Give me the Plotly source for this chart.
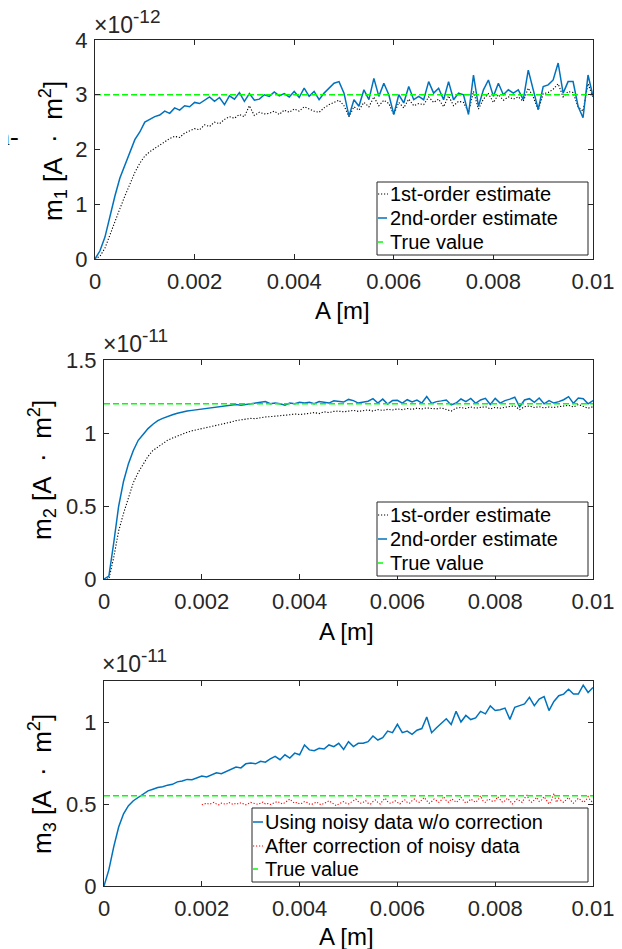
import plotly.graph_objects as go

W, H = 622, 949
OFF = 8  # the page body keeps the browser's default 8px margin

# ---------------- data (values in units of the exponent shown on each axis) ----------------
A_m = [i / 10000 for i in range(101)]          # A grid [m], 0 ... 0.01

# Plot 1: m1 [x1e-12 A m^2]
m1_first = [0, 0.05, 0.20, 0.45, 0.70, 0.92, 1.15, 1.38, 1.58, 1.75,
            1.88, 1.96, 2.02, 2.08, 2.14, 2.20, 2.24, 2.22, 2.30, 2.34,
            2.38, 2.36, 2.45, 2.42, 2.50, 2.47, 2.55, 2.60, 2.57, 2.64,
            2.60, 2.80, 2.62, 2.68, 2.65, 2.66, 2.70, 2.64, 2.72, 2.68,
            2.74, 2.70, 2.78, 2.74, 2.70, 2.68, 2.76, 2.82, 2.86, 2.90,
            2.80, 2.60, 2.78, 2.72, 2.86, 2.78, 2.96, 2.80, 2.90, 2.84,
            2.64, 2.86, 2.76, 2.92, 2.80, 2.84, 2.82, 2.96, 2.86, 2.92,
            2.78, 2.98, 2.80, 2.88, 2.86, 2.68, 3.06, 2.74, 2.92, 3.02,
            2.86, 3.00, 2.90, 2.96, 2.92, 2.96, 2.88, 3.12, 2.96, 2.72,
            3.02, 3.04, 3.10, 3.20, 2.96, 3.06, 3.04, 2.78, 2.70, 3.20,
            2.95]
m1_second = [0, 0.15, 0.40, 0.80, 1.15, 1.48, 1.72, 1.95, 2.18, 2.32,
             2.50, 2.55, 2.60, 2.63, 2.70, 2.66, 2.76, 2.72, 2.80, 2.78,
             2.86, 2.84, 2.90, 2.96, 2.88, 2.95, 2.82, 2.98, 2.92, 3.04,
             2.88, 3.02, 2.90, 2.92, 3.00, 2.97, 3.05, 2.98, 3.02, 2.96,
             3.06, 2.95, 3.12, 2.97, 3.06, 2.91, 3.03, 3.12, 3.21, 3.24,
             3.03, 2.61, 2.91, 2.79, 3.09, 2.91, 3.30, 2.97, 3.21, 3.00,
             2.64, 3.00, 2.85, 3.15, 2.91, 2.97, 2.91, 3.24, 3.03, 3.12,
             2.91, 3.24, 2.91, 3.03, 3.00, 2.64, 3.36, 2.79, 3.09, 3.27,
             2.97, 3.21, 3.00, 3.09, 3.03, 3.09, 2.91, 3.45, 3.06, 2.73,
             3.15, 3.18, 3.27, 3.58, 3.03, 3.24, 3.24, 2.79, 2.58, 3.36,
             2.97]
m1_true = 3.0

# Plot 2: m2 [x1e-11 A m^2]
m2_first = [0, 0.0, 0.15, 0.33, 0.45, 0.56, 0.66, 0.73, 0.79, 0.84,
            0.88, 0.905, 0.93, 0.95, 0.965, 0.98, 0.995, 1.005, 1.015, 1.022,
            1.03, 1.038, 1.045, 1.05, 1.06, 1.065, 1.075, 1.085, 1.09, 1.095,
            1.10, 1.098, 1.105, 1.11, 1.112, 1.115, 1.12, 1.118, 1.125, 1.13,
            1.127, 1.13, 1.135, 1.14, 1.133, 1.145, 1.14, 1.148, 1.15, 1.145,
            1.15, 1.155, 1.148, 1.152, 1.158, 1.150, 1.160, 1.155, 1.162, 1.158,
            1.165, 1.160, 1.168, 1.162, 1.170, 1.165, 1.172, 1.168, 1.165, 1.172,
            1.160, 1.150, 1.170, 1.175, 1.168, 1.178, 1.170, 1.175, 1.180, 1.165,
            1.175, 1.170, 1.178, 1.182, 1.185, 1.160, 1.180, 1.185, 1.175, 1.180,
            1.172, 1.178, 1.175, 1.182, 1.185, 1.190, 1.178, 1.195, 1.185, 1.170,
            1.180]
m2_second = [0, 0.02, 0.25, 0.50, 0.67, 0.79, 0.88, 0.95, 0.99, 1.03,
             1.06, 1.085, 1.10, 1.115, 1.125, 1.135, 1.145, 1.15, 1.155, 1.16,
             1.165, 1.17, 1.175, 1.18, 1.185, 1.185, 1.19, 1.195, 1.19, 1.195,
             1.20, 1.20, 1.205, 1.215, 1.20, 1.205, 1.20, 1.19, 1.205, 1.20,
             1.21, 1.205, 1.21, 1.20, 1.215, 1.21, 1.205, 1.22, 1.215, 1.212,
             1.230, 1.222, 1.205, 1.210, 1.218, 1.235, 1.205, 1.232, 1.198, 1.222,
             1.224, 1.205, 1.228, 1.212, 1.226, 1.205, 1.250, 1.203, 1.215, 1.220,
             1.226, 1.192, 1.205, 1.233, 1.215, 1.237, 1.203, 1.226, 1.237, 1.195,
             1.237, 1.205, 1.222, 1.232, 1.245, 1.180, 1.226, 1.235, 1.210, 1.240,
             1.200, 1.222, 1.205, 1.215, 1.228, 1.249, 1.203, 1.240, 1.235, 1.200,
             1.222]
m2_true = 1.2

# Plot 3: m3 [x1e-11 A m^2]
m3_noisy = [0, 0.10, 0.24, 0.36, 0.44, 0.49, 0.52, 0.54, 0.56, 0.58,
            0.59, 0.60, 0.605, 0.615, 0.62, 0.635, 0.64, 0.65, 0.648, 0.66,
            0.67, 0.665, 0.68, 0.69, 0.685, 0.70, 0.71, 0.725, 0.72, 0.745,
            0.75, 0.745, 0.76, 0.755, 0.775, 0.79, 0.77, 0.80, 0.78, 0.81,
            0.80, 0.86, 0.83, 0.825, 0.84, 0.835, 0.86, 0.85, 0.87, 0.833,
            0.88, 0.85, 0.87, 0.87, 0.88, 0.915, 0.89, 0.905, 0.945, 0.935,
            0.986, 0.935, 0.945, 0.925, 0.95, 0.96, 1.03, 0.935, 0.965, 0.995,
            1.02, 0.985, 1.065, 1.00, 1.04, 1.015, 1.025, 1.065, 1.05, 1.098,
            1.07, 1.075, 1.085, 1.016, 1.09, 1.10, 1.11, 1.15, 1.10, 1.14,
            1.155, 1.07, 1.125, 1.16, 1.17, 1.20, 1.17, 1.17, 1.225, 1.18,
            1.21]
A_corr_m = [0.002 + i * 0.00005 for i in range(161)]   # A grid [m], 0.002 ... 0.01
m3_corrected = [0.495, 0.50, 0.505, 0.498, 0.502, 0.51, 0.50, 0.495, 0.505, 0.50,
                0.498, 0.51, 0.503, 0.497, 0.505, 0.50, 0.508, 0.50, 0.495, 0.502,
                0.51, 0.505, 0.50, 0.498, 0.505, 0.512, 0.50, 0.503, 0.497, 0.505,
                0.51, 0.515, 0.505, 0.50, 0.508, 0.518, 0.53, 0.515, 0.505, 0.51,
                0.50, 0.505, 0.515, 0.51, 0.50, 0.498, 0.505, 0.512, 0.50, 0.495,
                0.505, 0.51, 0.52, 0.51, 0.50, 0.49, 0.50, 0.51, 0.515, 0.505,
                0.50, 0.51, 0.52, 0.53, 0.515, 0.505, 0.51, 0.52, 0.505, 0.50,
                0.515, 0.525, 0.51, 0.50, 0.52, 0.535, 0.515, 0.505, 0.51, 0.52,
                0.51, 0.50, 0.515, 0.525, 0.51, 0.505, 0.52, 0.53, 0.515, 0.51,
                0.525, 0.54, 0.52, 0.505, 0.515, 0.53, 0.52, 0.51, 0.525, 0.545,
                0.52, 0.51, 0.53, 0.525, 0.51, 0.52, 0.54, 0.52, 0.505, 0.515,
                0.53, 0.52, 0.51, 0.525, 0.55, 0.52, 0.51, 0.53, 0.525, 0.515,
                0.52, 0.545, 0.525, 0.51, 0.52, 0.535, 0.52, 0.50, 0.515, 0.53,
                0.52, 0.51, 0.535, 0.555, 0.52, 0.51, 0.525, 0.54, 0.515, 0.525,
                0.545, 0.52, 0.50, 0.52, 0.565, 0.51, 0.535, 0.52, 0.51, 0.525,
                0.54, 0.52, 0.505, 0.52, 0.535, 0.525, 0.51, 0.52, 0.545, 0.52,
                0.51]
m3_true = 0.55
A_range = [0, 0.01]

x_tickvals = [0, 0.002, 0.004, 0.006, 0.008, 0.01]
x_ticktext = ["0", "0.002", "0.004", "0.006", "0.008", "0.01"]

legend1_labels = ["1st-order estimate", "2nd-order estimate", "True value"]
legend3_labels = ["Using noisy data w/o correction", "After correction of noisy data", "True value"]

# ---------------- styling ----------------
FONT = "Liberation Sans, Arial, Helvetica, sans-serif"
AX = "#262626"
BLUE = "#0072BD"
GREEN = "#00FF00"
RED = "#FF0000"
DOT = "1.2px,1.8px"
DASH = "6px,3px"

def px(x):
    return (x - OFF) / W

def py(y):
    return 1 - (y - OFF) / H

fig = go.Figure()

def add(x, y, name, color, dash, width, xa, ya):
    fig.add_trace(go.Scatter(x=x, y=y, mode="lines", name=name,
                             line=dict(color=color, dash=dash, width=width),
                             xaxis=xa, yaxis=ya, showlegend=False))

# plot 1
add(A_m, m1_first, legend1_labels[0], "#000000", DOT, 1.1, "x", "y")
add(A_m, m1_second, legend1_labels[1], BLUE, "solid", 1.5, "x", "y")
add(A_range, [m1_true, m1_true], legend1_labels[2], GREEN, DASH, 1.5, "x", "y")
# plot 2
add(A_m, m2_first, legend1_labels[0], "#000000", DOT, 1.1, "x2", "y2")
add(A_m, m2_second, legend1_labels[1], BLUE, "solid", 1.5, "x2", "y2")
add(A_range, [m2_true, m2_true], legend1_labels[2], GREEN, DASH, 1.5, "x2", "y2")
# plot 3
add(A_m, m3_noisy, legend3_labels[0], BLUE, "solid", 1.5, "x3", "y3")
add(A_corr_m, m3_corrected, legend3_labels[1], RED, DOT, 1.1, "x3", "y3")
add(A_range, [m3_true, m3_true], legend3_labels[2], GREEN, DASH, 1.5, "x3", "y3")

def xaxis(domain, anchor):
    return dict(domain=domain, anchor=anchor, range=A_range, tickvals=x_tickvals,
                ticktext=x_ticktext, ticks="inside", ticklen=5, tickcolor=AX,
                showline=True, linecolor=AX, linewidth=1, mirror="allticks",
                showgrid=False, zeroline=False, ticklabelstandoff=3, automargin=False,
                tickfont=dict(family=FONT, size=22, color=AX))

def yaxis(domain, anchor, rng, tv, tt):
    return dict(domain=domain, anchor=anchor, range=rng, tickvals=tv, ticktext=tt,
                ticks="inside", ticklen=5, tickcolor=AX,
                showline=True, linecolor=AX, linewidth=1, mirror="allticks",
                showgrid=False, zeroline=False, ticklabelstandoff=2, automargin=False,
                tickfont=dict(family=FONT, size=22, color=AX))

annotations = []
shapes = []

def ann(text, x, y, xanchor="center", yanchor="middle", size=24, angle=0, family=FONT, color="#000000"):
    annotations.append(dict(text=text, x=px(x), y=py(y), xref="paper", yref="paper",
                            xanchor=xanchor, yanchor=yanchor, showarrow=False, textangle=angle,
                            font=dict(family=family, size=size, color=color)))

# hand-drawn legend boxes (MATLAB-style compact legend)
def legend_box(x0, y0, x1, y1, labels, styles, rows):
    shapes.append(dict(type="rect", xref="paper", yref="paper", x0=px(x0), x1=px(x1),
                       y0=py(y0), y1=py(y1), line=dict(color=AX, width=1), fillcolor="white",
                       layer="above"))
    for lab, (color, dash, width, ln), ry in zip(labels, styles, rows):
        shapes.append(dict(type="line", xref="paper", yref="paper", x0=px(x0 + 1), x1=px(x0 + 1 + ln),
                           y0=py(ry), y1=py(ry), line=dict(color=color, dash=dash, width=width),
                           layer="above"))
        annotations.append(dict(text=lab, x=px(x0 + 11), y=py(ry), xref="paper", yref="paper",
                                xanchor="left", yanchor="middle", showarrow=False,
                                font=dict(family=FONT, size=20, color="#000000")))

styles12 = [("#000000", DOT, 1.1, 10), (BLUE, "solid", 1.5, 9), (GREEN, "solid", 1.5, 5)]
styles3 = [(BLUE, "solid", 1.5, 10), (RED, DOT, 1.1, 10), (GREEN, "solid", 1.5, 5)]

EXP = "×10<sup><span style='font-size:19px'>%s</span></sup>"
# exponent labels
ann(EXP % "-12", 92, 40, "left", "bottom", 23, color=AX)
ann(EXP % "-11", 101, 359, "left", "bottom", 23, color=AX)
ann(EXP % "-11", 100, 679, "left", "bottom", 23, color=AX)
# axis titles
ann("A [m]", 342, 310)
ann("A [m]", 346, 631)
ann("A [m]", 346, 936)
YT = "m<sub>%s</sub> [A&nbsp; ·&nbsp; m<sup>2</sup>]"
ann(YT % "1", 53, 151, angle=-90, size=26)
ann(YT % "2", 42, 470, angle=-90, size=26)
ann(YT % "3", 42, 784, angle=-90, size=26)
# clipped text from neighbouring page
ann("n-", 21, 136, "right", "middle", 26, family="Liberation Serif, Times New Roman, serif")

legend_box(377, 182, 588, 255, legend1_labels, styles12, [194, 218, 242])
legend_box(377, 502, 588, 576, legend1_labels, styles12, [515, 539, 563])
legend_box(252, 808, 588, 882, legend3_labels, styles3, [822, 846, 869])

fig.update_layout(
    width=W, height=H, margin=dict(l=0, r=0, t=0, b=0, autoexpand=False),
    paper_bgcolor="white", plot_bgcolor="white",
    xaxis=xaxis([px(95), px(593)], "y"),
    yaxis=yaxis([py(259), py(40)], "x", [0, 4], [0, 1, 2, 3, 4], ["0", "1", "2", "3", "4"]),
    xaxis2=xaxis([px(104), px(593)], "y2"),
    yaxis2=yaxis([py(579), py(360)], "x2", [0, 1.5], [0, 0.5, 1, 1.5], ["0", "0.5", "1", "1.5"]),
    xaxis3=xaxis([px(104), px(593)], "y3"),
    yaxis3=yaxis([py(886), py(681)], "x3", [0, 1.25], [0, 0.5, 1], ["0", "0.5", "1"]),
    annotations=annotations,
    shapes=shapes,
    showlegend=False,
)

fig.write_html("out.html")
